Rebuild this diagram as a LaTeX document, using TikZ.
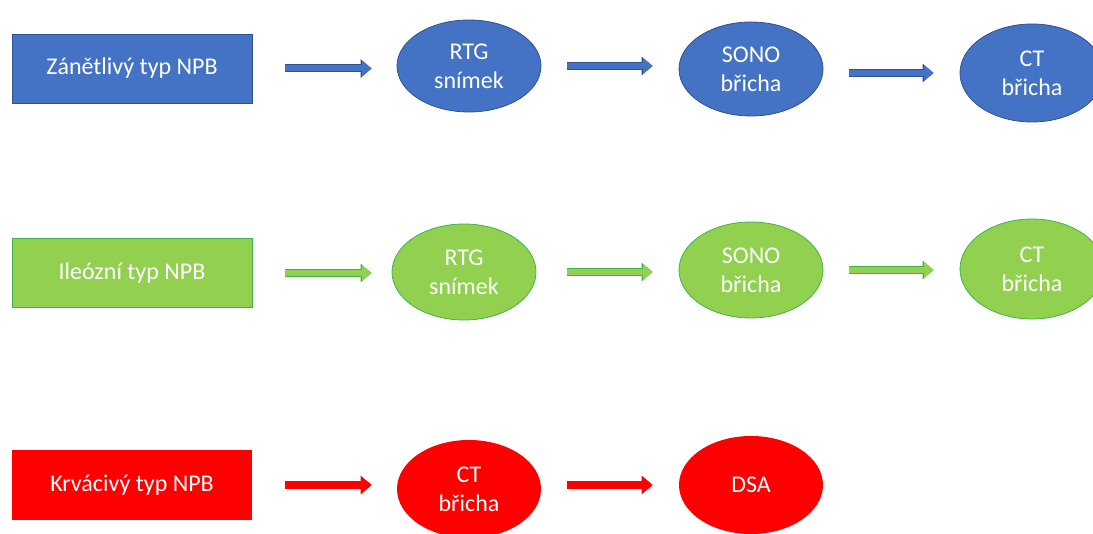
\documentclass[tikz,border=0pt]{standalone}
\usepackage{fontspec}
\setmainfont{Carlito}
\usetikzlibrary{arrows.meta,shapes.geometric}
\definecolor{zanfill}{HTML}{4472C4}
\definecolor{zanedge}{HTML}{2F528F}
\definecolor{ileofill}{HTML}{92D050}
\definecolor{ileoedge}{HTML}{3DB54A}
\definecolor{krvfill}{HTML}{FF0000}
\tikzset{
  typbox/.style={rectangle,minimum width=240pt,minimum height=69pt,inner sep=0pt,
    text=white,line width=0.8pt,font=\fontsize{24pt}{29pt}\selectfont},
  vysetr/.style={ellipse,minimum width=144pt,minimum height=94pt,inner sep=0pt,
    text=white,align=center,line width=0.8pt,font=\fontsize{24pt}{29pt}\selectfont},
  tok/.style 2 args={line width=6pt,draw=#1,-{Triangle[length=9.5pt,width=15pt]},
    preaction={draw=#2,line width=8pt,-{Triangle[length=11pt,width=18pt]}}},
  zkr/.style={shorten <=26pt,shorten >=26pt}
}

\begin{document}
\begin{tikzpicture}[x=1pt,y=-1pt]
    \useasboundingbox (0,0) rectangle (1093,534);
    \clip (0,0) rectangle (1093,534);
    % zanetlivy typ
    \node[typbox,fill=zanfill,draw=zanedge] (zan) at (132,68.5) {Zánětlivý typ NPB};
    \node[vysetr,fill=zanfill,draw=zanedge,minimum height=92pt] (rtgA) at (469,66) {RTG\\snímek};
    \node[vysetr,fill=zanfill,draw=zanedge] (sonoA) at (751,69) {SONO\\břicha};
    \node[vysetr,fill=zanfill,draw=zanedge,minimum height=98pt] (ctA) at (1032,73) {CT\\břicha};
    \draw[tok={zanfill}{zanedge},zkr,shorten <=33pt,shorten >=25pt] (zan.east) -- (zan.east -| rtgA.west);
    \draw[tok={zanfill}{zanedge},zkr] (rtgA.east) -- (rtgA.east -| sonoA.west);
    \draw[tok={zanfill}{zanedge},zkr] (sonoA.east |- ctA) -- (ctA.west);
    % ileozni typ
    \node[typbox,fill=ileofill,draw=ileoedge] (ileo) at (132,273) {Ileózní typ NPB};
    \node[vysetr,fill=ileofill,draw=ileoedge,minimum height=96pt] (rtgB) at (464,272) {RTG\\snímek};
    \node[vysetr,fill=ileofill,draw=ileoedge,minimum height=96pt] (sonoB) at (751,270) {SONO\\břicha};
    \node[vysetr,fill=ileofill,draw=ileoedge,minimum height=100pt] (ctB) at (1032,269) {CT\\břicha};
    \draw[tok={ileofill}{ileoedge},zkr,shorten <=33pt,shorten >=20pt] (ileo.east) -- (ileo.east -| rtgB.west);
    \draw[tok={ileofill}{ileoedge},zkr,shorten <=31pt] (rtgB.east) -- (rtgB.east -| sonoB.west);
    \draw[tok={ileofill}{ileoedge},zkr] (sonoB.east) -- (sonoB.east -| ctB.west);
    % krvacivy typ
    \node[typbox,fill=krvfill] (krv) at (132,485) {Krvácivý typ NPB};
    \node[vysetr,fill=krvfill,minimum height=98pt] (ctC) at (469,489) {CT\\břicha};
    \node[vysetr,fill=krvfill,minimum height=98pt] (dsa) at (751,485) {DSA};
    \draw[tok={krvfill}{krvfill},zkr,shorten <=33pt,shorten >=25pt] (krv.east) -- (krv.east -| ctC.west);
    \draw[tok={krvfill}{krvfill},zkr] (ctC.east |- dsa) -- (dsa.west);
  \end{tikzpicture}
\end{document}
